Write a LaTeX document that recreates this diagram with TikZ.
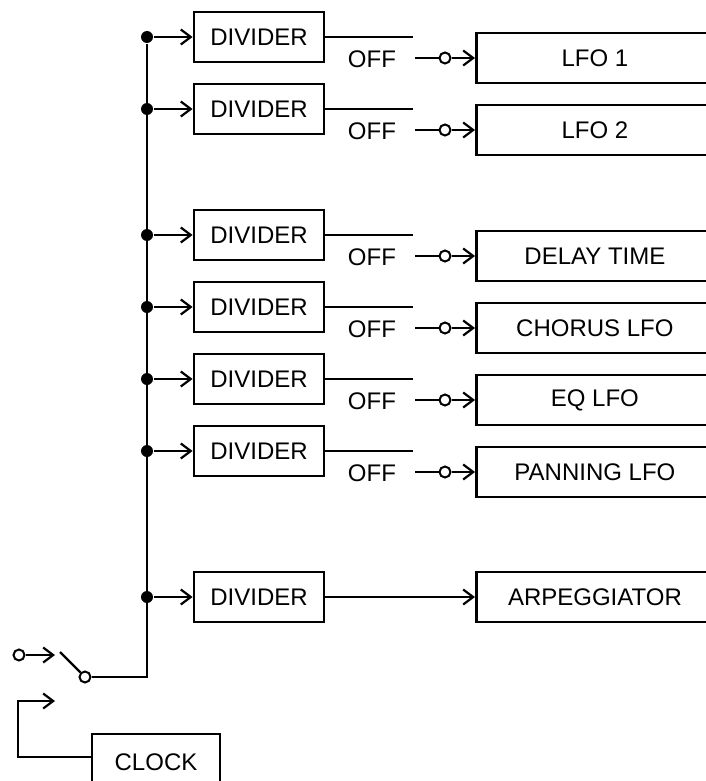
\documentclass[tikz,border=0pt]{standalone}
\usepackage{fontspec}
\setmainfont{Liberation Sans}
\usetikzlibrary{positioning,arrows.meta}

\begin{document}
\begin{tikzpicture}[x=1pt, y=-1pt, line width=2.2pt,
    >={Straight Barb[length=10pt,width=15pt]},
    font=\fontsize{24}{28}\selectfont,
    divbox/.style={draw, line width=2.8pt, minimum width=130pt, minimum height=50pt, inner sep=0pt},
    unitbox/.style={draw, line width=2.8pt, minimum width=237pt, minimum height=50pt, inner sep=0pt, anchor=west},
    junction/.style={circle, fill, inner sep=0pt, minimum size=12pt},
    contact/.style={circle, draw, fill=white, inner sep=0pt, minimum size=11pt, line width=2pt}]
  \useasboundingbox (0,0) rectangle (706,781);
  \clip (0,0) rectangle (706,781);

  % divided clock, each with an on/off switch
  \foreach \i/\y/\unit in {1/37/LFO 1, 2/109/LFO 2, 3/235/DELAY TIME,
      4/307/CHORUS LFO, 5/379/EQ LFO, 6/451/PANNING LFO} {
    \node[junction] (j\i) at (147,\y) {};
    \node[divbox] (div\i) at (259,\y) {DIVIDER};
    \coordinate (sw\i) at (413,\y);
    \node[inner xsep=18pt, inner ysep=0pt, anchor=east] (off\i) at (415,\y+22) {OFF};
    \node[contact] (c\i) at (445,\y+21) {};
    \node[unitbox] (unit\i) at (475,\y+21) {\unit};
    \draw[->] (j\i) -- (div\i);
    \draw (div\i) -- (sw\i);
    \draw (off\i.east |- c\i) -- (c\i);
    \draw[->] (c\i) -- (unit\i);
  }

  \node[junction] (j7) at (147,597) {};
  \node[divbox] (div7) at (259,597) {DIVIDER};
  \node[unitbox] (arp) at (475,597) {ARPEGGIATOR};
  \draw[->] (j7) -- (div7);
  \draw[->] (div7) -- (arp);

  % clock source switch
  \node[contact] (ext) at (19,655) {};
  \coordinate (extin) at (55,655);
  \coordinate (pole) at (60,652);
  \node[contact] (common) at (85,677) {};
  \draw[->] (ext) -- (extin);
  \draw (pole) -- (common);
  \draw (common) -| (j1);

  \node[divbox, minimum width=128pt, minimum height=56pt] (clock) at (156,762) {CLOCK};
  \coordinate (intin) at (18,701);
  \coordinate (intend) at (55,701);
  \draw[->] ([yshift=5pt]clock.west) -| (intin) -- (intend);
\end{tikzpicture}
\end{document}
